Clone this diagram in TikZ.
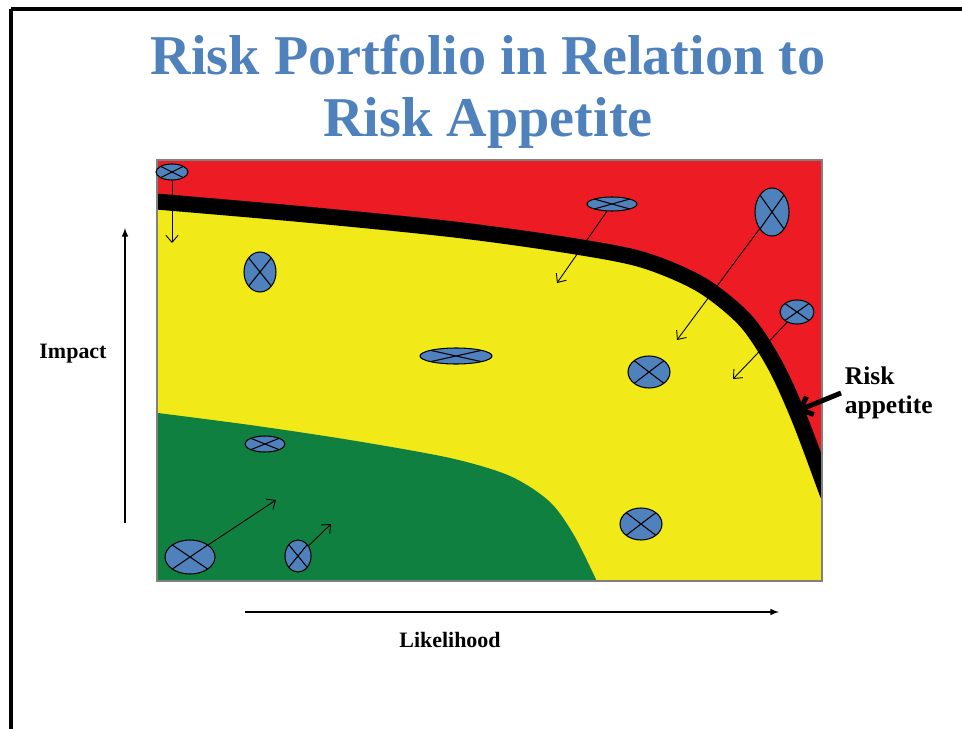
\documentclass[tikz,border=0pt]{standalone}
\usepackage{fontspec}
\setmainfont{Liberation Serif}
\usetikzlibrary{shapes.geometric,arrows.meta}

\definecolor{riskred}{RGB}{237,28,36}
\definecolor{riskyellow}{RGB}{242,234,24}
\definecolor{riskgreen}{RGB}{15,128,64}
\definecolor{riskblue}{RGB}{79,129,189}

\tikzset{
  risk/.style 2 args={ellipse, draw, semithick, fill=riskblue, inner sep=0pt,
    minimum width=#1*0.02cm, minimum height=#2*0.02cm,
    path picture={\draw (path picture bounding box.north west) -- (path picture bounding box.south east)
      (path picture bounding box.south west) -- (path picture bounding box.north east);}},
  move/.style={-{Straight Barb[length=4pt,width=7pt]}, line width=0.5pt},
  label/.style={font=\fontsize{12.5}{14}\selectfont\bfseries, anchor=base}
}

\begin{document}
\begin{tikzpicture}[x=0.02cm,y=-0.02cm]
    \useasboundingbox (0,0) rectangle (962,729);
    % slide frame
    \draw[line width=0.08cm] (11,9.5) -- (962,9.5) (11,9.5) -- (11,729);

    % title
    \node[font=\fontsize{32}{35}\selectfont\bfseries, text=riskblue, anchor=base] (title1) at (488,75) {Risk Portfolio in Relation to};
    \node[font=\fontsize{32}{35}\selectfont\bfseries, text=riskblue, anchor=base] (title2) at (488,137) {Risk Appetite};

    % zones
    \begin{scope}
        \clip (157,160) rectangle (822,581);
        \fill[riskred] (157,160) rectangle (822,581);
        \fill[riskyellow] plot[smooth] coordinates {(150,201) (300,214) (450,229) (560,244) (640,259) (700,284) (745,320) (775,365) (800,420) (828,495)} -- (830,590) -- (150,590) -- cycle;
        \fill[riskgreen] plot[smooth] coordinates {(150,412) (250,425) (350,440) (450,458) (510,476) (550,502) (575,537) (600,588)} -- (150,590) -- cycle;
        \draw[line width=0.32cm] plot[smooth] coordinates {(150,201) (300,214) (450,229) (560,244) (640,259) (700,284) (745,320) (775,365) (800,420) (828,495)};
    \end{scope}
    \draw[gray, line width=0.04cm] (157,160) rectangle (822,581);

    % risks
    \node[risk={32}{16}] (r1) at (172,172) {};
    \node[risk={32}{40}] (r2) at (260,272) {};
    \node[risk={50}{14}] (r3) at (612,204) {};
    \node[risk={34}{48}] (r4) at (772,212) {};
    \node[risk={34}{24}] (r5) at (797,312) {};
    \node[risk={72}{16}] (r6) at (456,356) {};
    \node[risk={42}{32}] (r7) at (649,372) {};
    \node[risk={42}{32}] (r8) at (641,524) {};
    \node[risk={40}{16}] (r9) at (265,444) {};
    \node[risk={50}{34}] (r10) at (190,557) {};
    \node[risk={26}{32}] (r11) at (298,556) {};

    % movements
    \coordinate (m1) at (172,243);
    \coordinate (m3) at (557,283);
    \coordinate (m4) at (677,340);
    \coordinate (m5) at (733,379);
    \coordinate (m10) at (276,500);
    \coordinate (m11) at (331,524);
    \draw[move] (r1) -- (m1);
    \draw[move] (r3) -- (m3);
    \draw[move] (r4) -- (m4);
    \draw[move] (r5) -- (m5);
    \draw[move] (r10) -- (m10);
    \draw[move] (r11) -- (m11);

    % axes
    \coordinate (imp0) at (125,523);
    \coordinate (imp1) at (125,228);
    \coordinate (lik0) at (245,612);
    \coordinate (lik1) at (779,612);
    \draw[-latex, line width=0.7pt] (imp0) -- (imp1);
    \draw[-latex, line width=0.7pt] (lik0) -- (lik1);
    \node[label] (impact) at (73,358) {Impact};
    \node[label] (likelihood) at (450,647) {Likelihood};

    % appetite
    \node[font=\fontsize{14.5}{16.5}\selectfont\bfseries, align=left, anchor=west, inner sep=2pt] (appetite) at (841,393) {Risk\\appetite};
    \coordinate (tip) at (797,411);
    \draw[line width=0.1cm, -{Straight Barb[length=6pt,width=11pt]}] (appetite.west) -- (tip);
\end{tikzpicture}
\end{document}
